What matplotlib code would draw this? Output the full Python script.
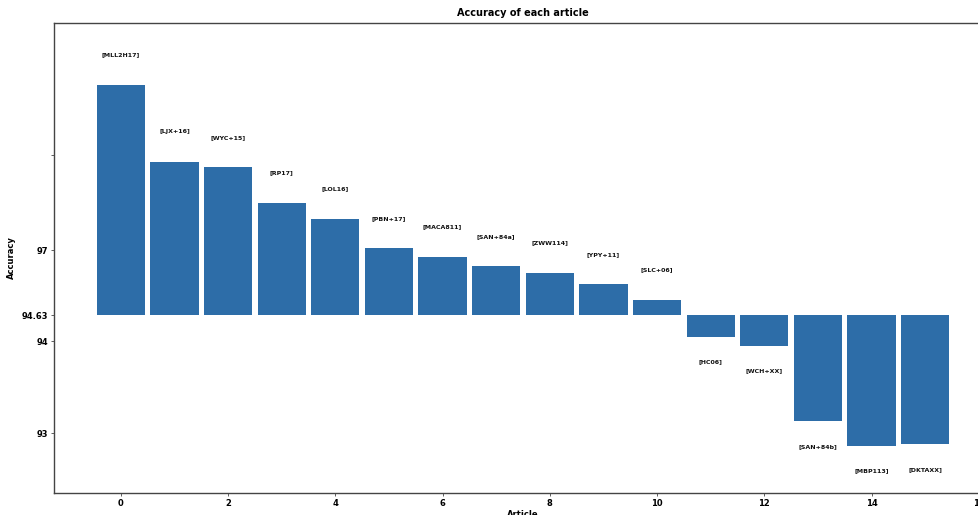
import numpy as np
import matplotlib
matplotlib.use("Agg")
import matplotlib.pyplot as plt

# Accuracy (%) per article, sorted from best to worst
articles = ["[MLL2H17]", "[LJX+16]", "[WYC+15]", "[RP17]", "[LOL16]",
            "[PBN+17]", "[MACA811]", "[SAN+84a]", "[ZWW114]", "[YPY+11]",
            "[SLC+06]", "[HC06]", "[WCH+XX]", "[SAN+84b]", "[MBP113]",
            "[DKTAXX]"]
accuracy = [98.74, 97.93, 97.87, 97.50, 97.33, 97.02, 96.75, 96.41,
            96.17, 95.75, 95.19, 94.10, 93.95, 93.13, 92.86, 92.88]
mean_accuracy = 94.63

# Tick values on the accuracy axis and their labels
ytick_values = [93, 94, 94.63, 97, 98]
ytick_labels = ["93", "94", "94.63", "97", ""]

# Piecewise-linear stretch of the accuracy axis around the mean
scale_acc = [90.0, 93.0, 94.0, 94.63, 97.0, 98.0, 100.0]
scale_pos = [-394.0, -118.0, -26.0, 0.0, 65.0, 160.0, 350.0]


def forward(v):
    return np.interp(v, scale_acc, scale_pos)


def inverse(p):
    return np.interp(p, scale_pos, scale_acc)


bar_color = "#2d6da8"
spine_color = "#444444"

fig = plt.figure(figsize=(9.79, 5.15), dpi=100)
ax = fig.add_axes([0.0552, 0.0427, 0.958, 0.9126])

ax.set_yscale("function", functions=(forward, inverse))

x = np.arange(len(articles))
heights = np.array(accuracy) - mean_accuracy
bars = ax.bar(x, heights, bottom=mean_accuracy, width=0.9, color=bar_color)

# Article keys above positive bars and below negative bars
for xi, acc, h in zip(x, accuracy, heights):
    name = articles[xi]
    off = 21.6 if h >= 0 else -18.0
    ax.annotate(name, xy=(xi, acc), xytext=(0, off),
                textcoords="offset points", ha="center", va="center",
                fontsize=4.5, fontweight="bold", color="#111111")

ax.set_ylim(92.35, 99.39)
ax.set_xlim(-1.245, 16.245)
ax.set_xticks(np.arange(0, 17, 2))
ax.set_yticks(ytick_values)
ax.set_yticklabels(ytick_labels)
ax.minorticks_off()

ax.tick_params(axis="both", labelsize=6, length=2.5, width=0.6,
               color=spine_color, pad=2)
for lbl in ax.get_xticklabels() + ax.get_yticklabels():
    lbl.set_fontweight("bold")

for sp in ax.spines.values():
    sp.set_color(spine_color)
    sp.set_linewidth(1.0)

ax.set_title("Accuracy of each article", fontsize=7, fontweight="bold", pad=5)
ax.set_xlabel("Article", fontsize=6, fontweight="bold", labelpad=1)
ax.set_ylabel("Accuracy", fontsize=6, fontweight="bold", labelpad=4)

fig.savefig("out.png", dpi=100)
